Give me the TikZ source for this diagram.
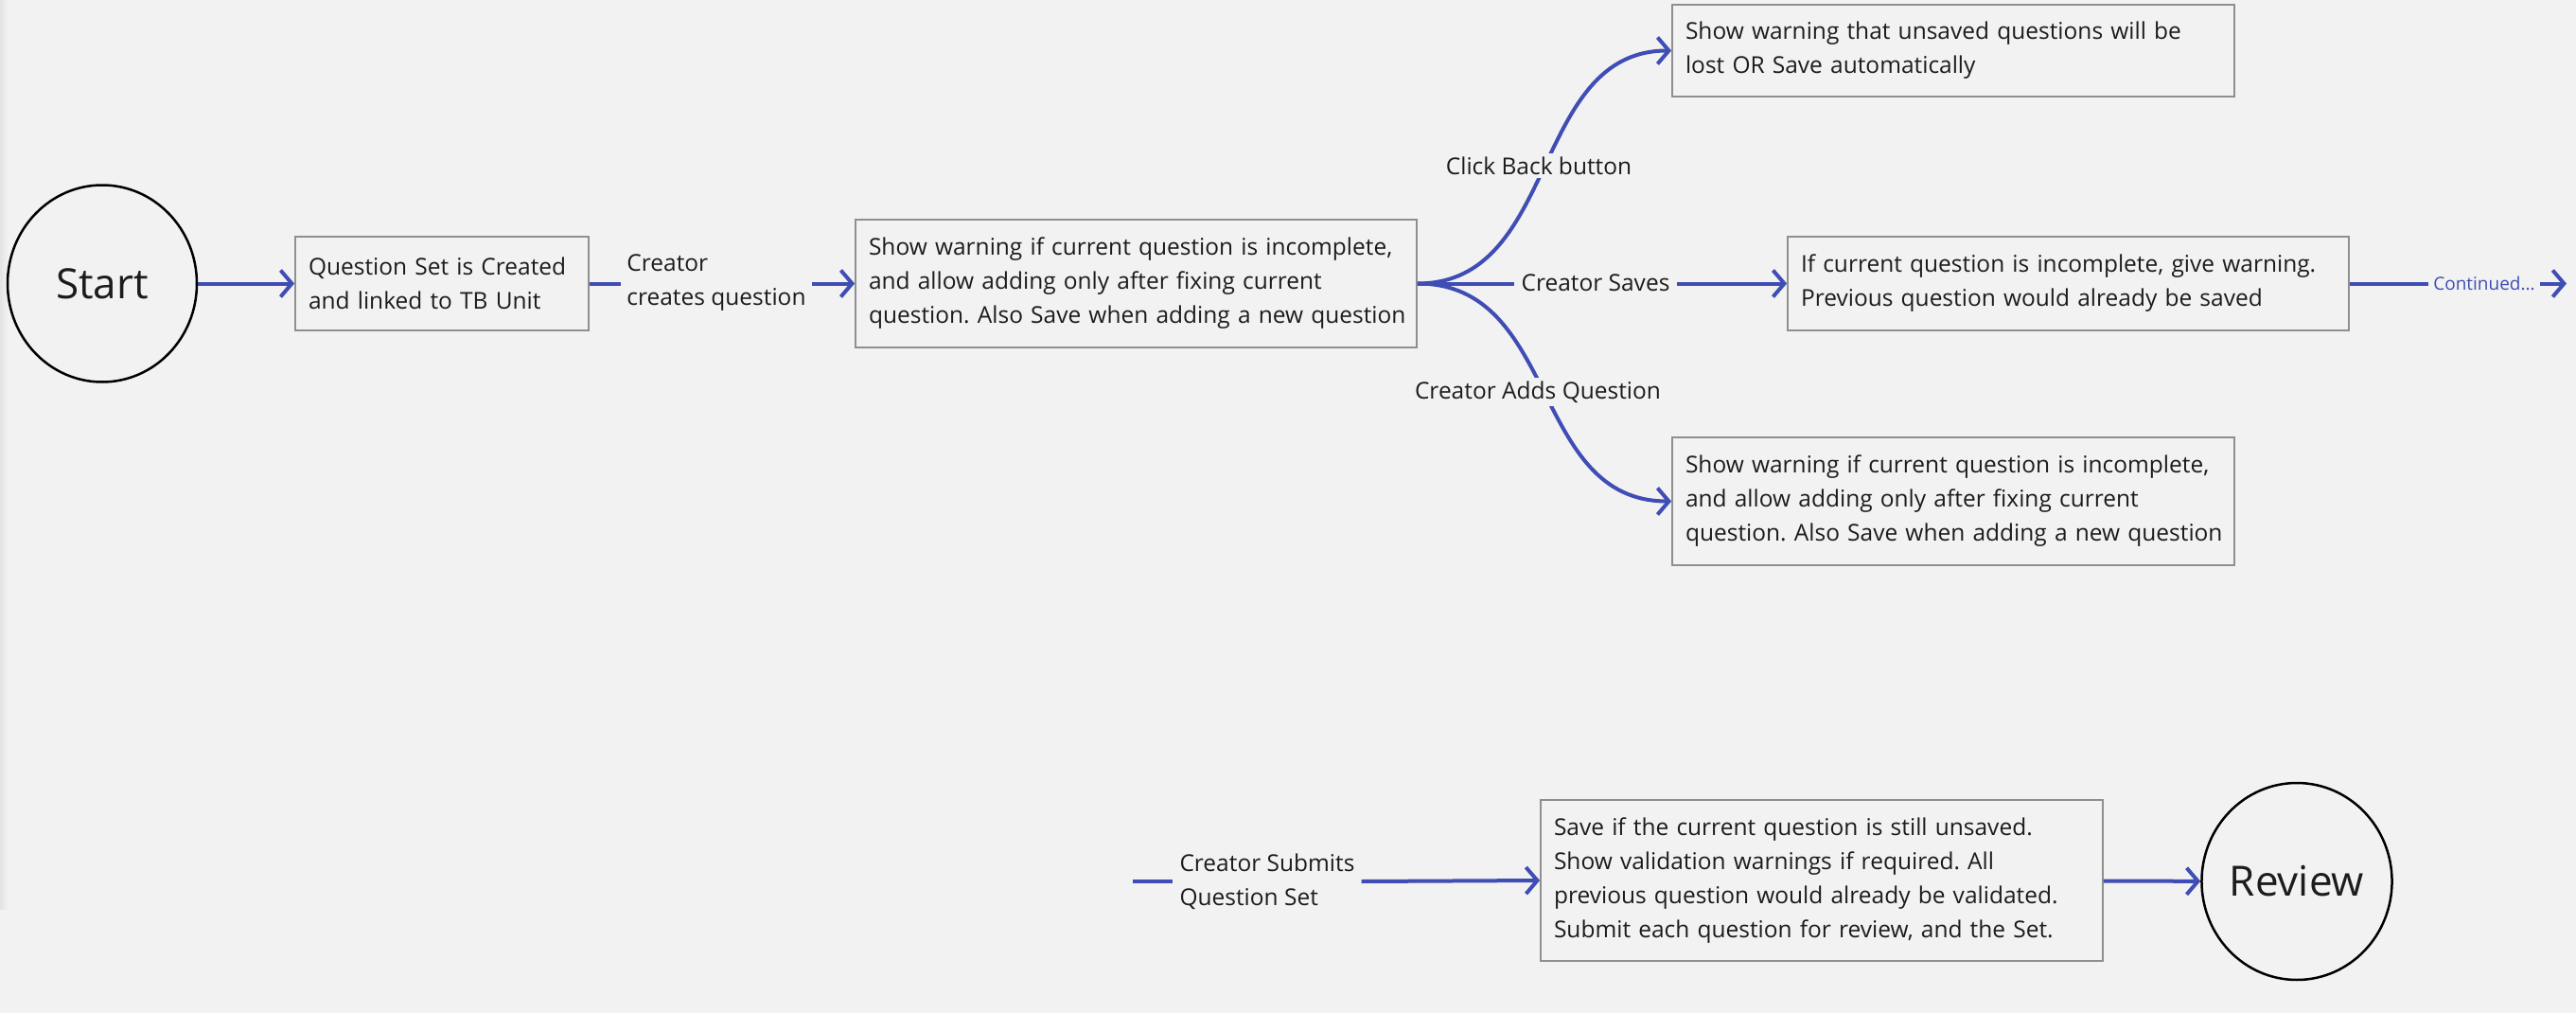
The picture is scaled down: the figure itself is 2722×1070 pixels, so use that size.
\documentclass[tikz,border=0pt]{standalone}
\usepackage{fontspec}
\setmainfont{Open Sans}
\usetikzlibrary{arrows.meta,shapes.geometric}
\definecolor{bgc}{HTML}{F2F2F2}
\definecolor{boxc}{HTML}{8F8F8F}
\definecolor{flow}{HTML}{3F4DB5}
\definecolor{ink}{HTML}{1C1C1C}
\newcommand{\lnbox}[1]{\mbox{#1}}
\frenchspacing
\begin{document}
\begin{tikzpicture}[x=1pt,y=-1pt,
  txt/.style={font=\fontsize{24.5}{36}\selectfont, text=ink},
  box/.style={txt, draw=boxc, line width=1.8pt, fill=bgc, inner xsep=14pt, inner ysep=0pt, align=left},
  term/.style={ellipse, draw=black, line width=2.5pt, minimum width=200pt, minimum height=208pt, font=\fontsize{44}{50}\selectfont, text=ink, inner sep=0pt},
  flowline/.style={draw=flow, line width=4pt},
  arr/.style={flowline, -{Straight Barb[length=12pt,width=28pt]}},
  lbl/.style={txt, fill=bgc, inner xsep=6pt, inner ysep=4pt, align=left},
]
% background
\path[fill=bgc] (0,0) rectangle (2722,1070);
\shade[left color=black!6!bgc, right color=bgc] (0,0) rectangle (8,960);

% main nodes
\node[term] (start) at (108,299.5) {Start};
\node[box, text width=282pt, minimum height=99pt] (b1) at (467,299.5)
  {\lnbox{Question Set is Created}\\\lnbox{and linked to TB Unit}};
\node[box, text width=565pt, minimum height=135pt] (b2) at (1200.5,299.5)
  {\lnbox{Show warning if current question is incomplete,}\\\lnbox{and allow adding only after fixing current}\\\lnbox{question. Also Save when adding a new question}};
\node[box, text width=566pt, minimum height=97pt] (b3) at (2064,53.5)
  {\lnbox{Show warning that unsaved questions will be}\\\lnbox{lost OR Save automatically}};
\node[box, text width=565pt, minimum height=99pt] (b4) at (2185.5,299.5)
  {\lnbox{If current question is incomplete, give warning.}\\\lnbox{Previous question would already be saved}};
\node[box, text width=566pt, minimum height=135pt] (b5) at (2064,529.5)
  {\lnbox{Show warning if current question is incomplete,}\\\lnbox{and allow adding only after fixing current}\\\lnbox{question. Also Save when adding a new question}};
\node[box, text width=566pt, minimum height=170pt] (b6) at (1925,930)
  {\lnbox{Save if the current question is still unsaved.}\\\lnbox{Show validation warnings if required. All}\\\lnbox{previous question would already be validated.}\\\lnbox{Submit each question for review, and the Set.}};
\node[term] (review) at (2427,931) {Review};

% curved branches
\draw[arr] (b2.east) .. controls (1648,299.5) and (1617,53.5) .. (b3.west);
\draw[arr] (b2.east) .. controls (1648,299.5) and (1617,529.5) .. (b5.west);

% labels
\node[lbl] (cb) at (1626,175) {Click Back button};
\node[lbl] (ca) at (1625,414) {Creator Adds Question};
\node[lbl] (cc) at (757,299) {Creator\\creates question};
\node[lbl, inner xsep=7pt] (cs) at (1686,299) {Creator Saves};
\node[lbl, font=\fontsize{19}{23}\selectfont, text=flow, inner xsep=5pt] (cont) at (2625,299.5) {Continued...};
\coordinate (contend) at (2712,299.5);
\node[lbl, inner xsep=7pt] (sub) at (1339,931) {Creator Submits\\Question Set};
\coordinate (subin) at (1197,931);

% straight connectors
\draw[arr] (start) -- (b1);
\draw[flowline] (b1) -- (cc.west |- b1.east);
\draw[arr] (cc.east |- b2.west) -- (b2);
\draw[flowline] (b2.east) -- (cs.west |- b2.east);
\draw[arr] (cs.east |- b4.west) -- (b4);
\draw[flowline] (b4) -- (cont);
\draw[arr] (cont) -- (contend);
\draw[flowline] (subin) -- (sub.west |- subin);
\draw[arr] (sub.east |- subin) -- (b6.west);
\draw[arr] (b6) -- (review);
\end{tikzpicture}
\end{document}
